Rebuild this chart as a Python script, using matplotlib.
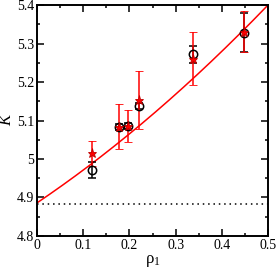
import numpy as np
import matplotlib
matplotlib.use('Agg')
from matplotlib import pyplot as plt
from matplotlib.ticker import MultipleLocator

# data
rho = [0.12, 0.178, 0.198, 0.220, 0.338, 0.449]
k_black = [4.971, 5.084, 5.086, 5.138, 5.272, 5.328]
err_black = [0.02, 0.008, 0.008, 0.008, 0.022, 0.05]
k_red = [5.015, 5.084, 5.086, 5.153, 5.261, 5.331]
err_red = [0.033, 0.058, 0.042, 0.076, 0.069, 0.054]

# quadratic fit curve coefficients
fit_a, fit_b, fit_c = 4.886, 0.808, 0.44
k_limit = 4.883

plt.rcParams['font.family'] = ['Liberation Serif', 'DejaVu Serif']
plt.rcParams['mathtext.fontset'] = 'dejavusans'

fig = plt.figure(figsize=(2.77, 2.71), dpi=100)
ax = fig.add_axes([37 / 277, 1 - 236 / 271, 231 / 277, 231 / 271])

xs = np.linspace(0, 0.5, 200)
ax.plot(xs, fit_a + fit_b * xs + fit_c * xs ** 2, color='red', lw=1.1)
ax.plot([0, 0.5], [k_limit, k_limit], color='black', ls=(0, (1, 2.5)), lw=1.1)

ax.errorbar(rho, k_black, yerr=err_black, fmt='o', mfc='none', mec='black',
            ms=6, mew=1.1, ecolor='black', elinewidth=1.1, capsize=3,
            capthick=1.1, color='black')
ax.errorbar(rho, k_red, yerr=err_red, fmt='*', color='red', ms=6.5,
            mec='#c00000', mew=0.6,
            ecolor='red', elinewidth=1.1, capsize=3, capthick=1.1)

ax.set_xlim(0, 0.5)
ax.set_ylim(4.8, 5.4)
ax.xaxis.set_major_locator(MultipleLocator(0.1))
ax.xaxis.set_minor_locator(MultipleLocator(0.05))
ax.yaxis.set_major_locator(MultipleLocator(0.1))
ax.yaxis.set_minor_locator(MultipleLocator(0.05))
ax.set_xticks([0, 0.1, 0.2, 0.3, 0.4, 0.5], ['0', '0.1', '0.2', '0.3', '0.4', '0.5'])
ax.set_yticks([4.8, 4.9, 5.0, 5.1, 5.2, 5.3, 5.4],
              ['4.8', '4.9', '5', '5.1', '5.2', '5.3', '5.4'])
ax.tick_params(which='both', direction='in', top=True, right=True, width=1.1,
               labelsize=10, pad=2)
ax.tick_params(which='major', length=5)
ax.tick_params(which='minor', length=2.5)
for s in ax.spines.values():
    s.set_linewidth(1.4)

ax.set_xlabel(r'$\mathregular{\rho_1}$', fontsize=12, labelpad=1)
ax.set_ylabel('K', fontsize=12, style='italic')
ax.yaxis.set_label_coords(-0.095, 0.5)

plt.savefig('out.png', dpi=100)
